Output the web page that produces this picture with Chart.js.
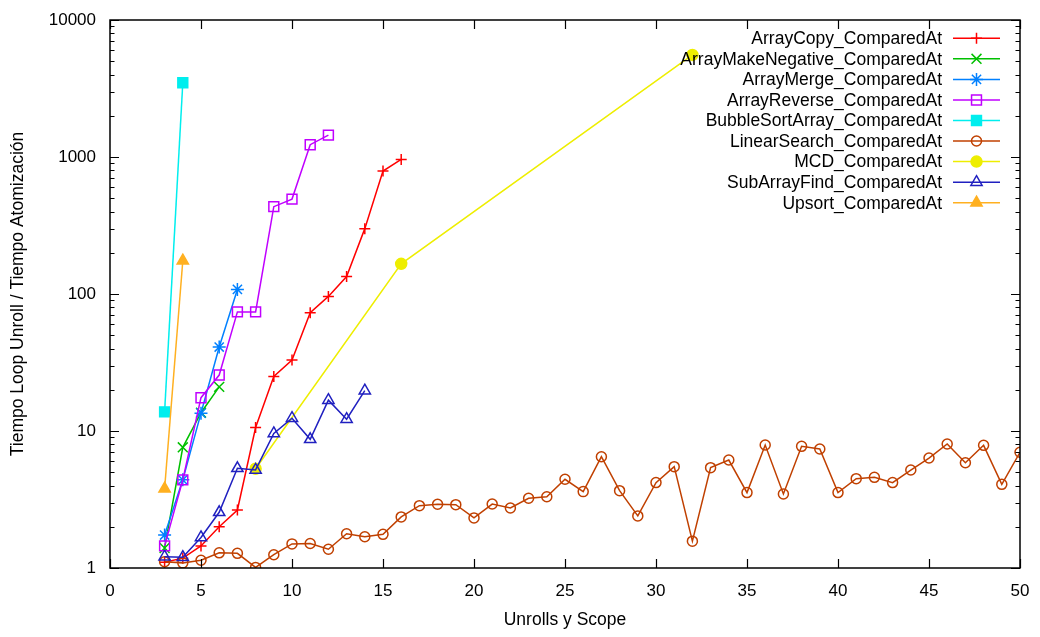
<!DOCTYPE html>
<html>
<head>
<meta charset="utf-8">
<script src="https://cdn.jsdelivr.net/npm/chart.js@4/dist/chart.umd.min.js"></script>
<style>
  html, body { margin: 0; padding: 0; background: #fff; }
  #wrap { width: 1040px; height: 637px; }
</style>
</head>
<body>
<div id="wrap"><canvas id="chart" width="1040" height="637"></canvas></div>
<script>
// ---- data ----
const arrayCopyX = [3, 4, 5, 6, 7, 8, 9, 10, 11, 12, 13, 14, 15, 16];
const arrayCopyY = [1.1, 1.18, 1.45, 2.0, 2.65, 10.6, 25, 33, 73, 96, 134, 300, 790, 960];

const makeNegX = [3, 4, 5, 6];
const makeNegY = [1.4, 7.6, 13.6, 21];

const mergeX = [3, 4, 5, 6, 7];
const mergeY = [1.74, 4.4, 13.5, 41, 108];

const reverseX = [3, 4, 5, 6, 7, 8, 9, 10, 11, 12];
const reverseY = [1.45, 4.4, 17.5, 25.6, 74, 74, 434, 493, 1230, 1445];

const bubbleX = [3, 4];
const bubbleY = [13.8, 3480];

const linearX = [3, 4, 5, 6, 7, 8, 9, 10, 11, 12, 13, 14, 15, 16, 17, 18, 19, 20, 21, 22, 23, 24, 25, 26,
                 27, 28, 29, 30, 31, 32, 33, 34, 35, 36, 37, 38, 39, 40, 41, 42, 43, 44, 45, 46, 47, 48, 49, 50];
const linearY = [1.11, 1.09, 1.14, 1.29, 1.28, 1.01, 1.25, 1.50, 1.51, 1.37, 1.78, 1.69, 1.76, 2.36, 2.85,
                 2.92, 2.9, 2.32, 2.93, 2.74, 3.23, 3.31, 4.44, 3.61, 6.49, 3.67, 2.40, 4.2, 5.49, 1.57,
                 5.4, 6.14, 3.55, 7.9, 3.47, 7.73, 7.39, 3.55, 4.49, 4.59, 4.2, 5.19, 6.35, 8.04, 5.87,
                 7.86, 4.08, 6.99];

const mcdX = [8, 16, 32];
const mcdY = [5.3, 166, 5560];

const subArrX = [3, 4, 5, 6, 7, 8, 9, 10, 11, 12, 13, 14];
const subArrY = [1.21, 1.2, 1.67, 2.55, 5.34, 5.2, 9.6, 12.4, 8.7, 16.8, 12.2, 19.7];

const upsortX = [3, 4];
const upsortY = [3.79, 175];

const xTicks = [0, 5, 10, 15, 20, 25, 30, 35, 40, 45, 50];
const yTicks = [1, 10, 100, 1000, 10000];

const FONT = "'Liberation Sans', Arial, sans-serif";

function pts(xs, ys) {
  return xs.map((x, i) => ({ x, y: ys[i] }));
}

function series(label, xs, ys, color, style, filled, radius) {
  return {
    label,
    data: pts(xs, ys),
    borderColor: color,
    backgroundColor: color,
    borderWidth: 1.5,
    pointStyle: style,
    pointRadius: radius,
    pointBorderWidth: 1.5,
    pointBackgroundColor: filled ? color : "rgba(0,0,0,0)",
    pointBorderColor: color,
    tension: 0,
    fill: false,
  };
}

const datasets = [
  series("ArrayCopy_ComparedAt",         arrayCopyX, arrayCopyY, "#ff0000", "cross",    false, 5.5),
  series("ArrayMakeNegative_ComparedAt", makeNegX,   makeNegY,   "#00c000", "crossRot", false, 7),
  series("ArrayMerge_ComparedAt",        mergeX,     mergeY,     "#0080ff", "star",     false, 6.5),
  series("ArrayReverse_ComparedAt",      reverseX,   reverseY,   "#c000ff", "rect",     false, 7),
  series("BubbleSortArray_ComparedAt",   bubbleX,    bubbleY,    "#00eeee", "rect",     true,  7),
  series("LinearSearch_ComparedAt",      linearX,    linearY,    "#c04000", "circle",   false, 5),
  series("MCD_ComparedAt",               mcdX,       mcdY,       "#eeee00", "circle",   true,  5.5),
  series("SubArrayFind_ComparedAt",      subArrX,    subArrY,    "#2020c0", "triangle", false, 6.5),
  series("Upsort_ComparedAt",            upsortX,    upsortY,    "#ffb020", "triangle", true,  6.5),
];
// later series on top, like gnuplot
datasets.forEach((d, i) => { d.order = datasets.length - i; });

/** frame, inward ticks on all four sides (gnuplot style) */
const framePlugin = {
  id: "frame",
  afterDraw(chart) {
    const { ctx, chartArea: a, scales } = chart;
    const xs = scales.x, ys = scales.y;
    ctx.save();
    ctx.strokeStyle = "#000";
    ctx.lineWidth = 1.5;
    ctx.strokeRect(a.left, a.top, a.right - a.left, a.bottom - a.top);
    ctx.lineWidth = 1.2;
    ctx.beginPath();
    xTicks.forEach(v => {
      const px = Math.round(xs.getPixelForValue(v)) + 0.5;
      ctx.moveTo(px, a.bottom); ctx.lineTo(px, a.bottom - 9);
      ctx.moveTo(px, a.top);    ctx.lineTo(px, a.top + 9);
    });
    for (let d = 1; d < 10000; d *= 10) {
      for (let m = 1; m <= 10; m++) {
        const py = Math.round(ys.getPixelForValue(d * m)) + 0.5;
        const len = (m === 1 || m === 10) ? 9 : 4.5;
        ctx.moveTo(a.left, py);  ctx.lineTo(a.left + len, py);
        ctx.moveTo(a.right, py); ctx.lineTo(a.right - len, py);
      }
    }
    ctx.stroke();
    ctx.restore();
  },
};

/** legend box in top-right, text right-aligned then sample line + marker */
const keyPlugin = {
  id: "key",
  afterDraw(chart) {
    const { ctx } = chart;
    const textRight = 942, lineL = 953, lineR = 1000, top = 38.3, step = 20.55;
    ctx.save();
    ctx.font = "17.5px " + FONT;
    ctx.textAlign = "right";
    ctx.textBaseline = "middle";
    chart.data.datasets.forEach((ds, i) => {
      const y = top + i * step;
      ctx.fillStyle = "#000";
      ctx.fillText(ds.label, textRight, y + 1);
      ctx.strokeStyle = ds.borderColor;
      ctx.lineWidth = ds.borderWidth;
      ctx.beginPath();
      ctx.moveTo(lineL, y); ctx.lineTo(lineR, y);
      ctx.stroke();
      ctx.fillStyle = ds.pointBackgroundColor;
      Chart.helpers.drawPoint(ctx, {
        pointStyle: ds.pointStyle,
        radius: ds.pointRadius,
        rotation: 0,
        borderWidth: ds.pointBorderWidth,
      }, (lineL + lineR) / 2, y);
    });
    ctx.restore();
  },
};

new Chart(document.getElementById("chart"), {
  type: "line",
  data: { datasets },
  plugins: [framePlugin, keyPlugin],
  options: {
    responsive: false,
    animation: false,
    devicePixelRatio: 1,
    layout: { padding: { top: 20, right: 20, left: 0, bottom: 0 } },
    plugins: {
      legend: { display: false },
      tooltip: { enabled: false },
    },
    scales: {
      x: {
        type: "linear",
        min: 0,
        max: 50,
        afterBuildTicks: s => { s.ticks = xTicks.map(v => ({ value: v })); },
        afterFit: s => { s.height = 69; },
        grid: { display: false },
        border: { display: false },
        ticks: { color: "#000", font: { family: FONT, size: 17 }, padding: 5, maxRotation: 0 },
        title: {
          display: true,
          text: "Unrolls y Scope",
          color: "#000",
          font: { family: FONT, size: 17.5 },
          padding: { top: 0, bottom: 6.5 },
        },
      },
      y: {
        type: "logarithmic",
        min: 1,
        max: 10000,
        afterBuildTicks: s => { s.ticks = yTicks.map(v => ({ value: v })); },
        afterFit: s => { s.width = 110; },
        grid: { display: false },
        border: { display: false },
        ticks: { color: "#000", font: { family: FONT, size: 17 }, padding: 6, callback: v => String(v) },
        title: {
          display: true,
          text: "Tiempo Loop Unroll / Tiempo Atomización",
          color: "#000",
          font: { family: FONT, size: 17.5 },
          padding: { top: 7.5, bottom: 0 },
        },
      },
    },
  },
});
</script>
</body>
</html>
